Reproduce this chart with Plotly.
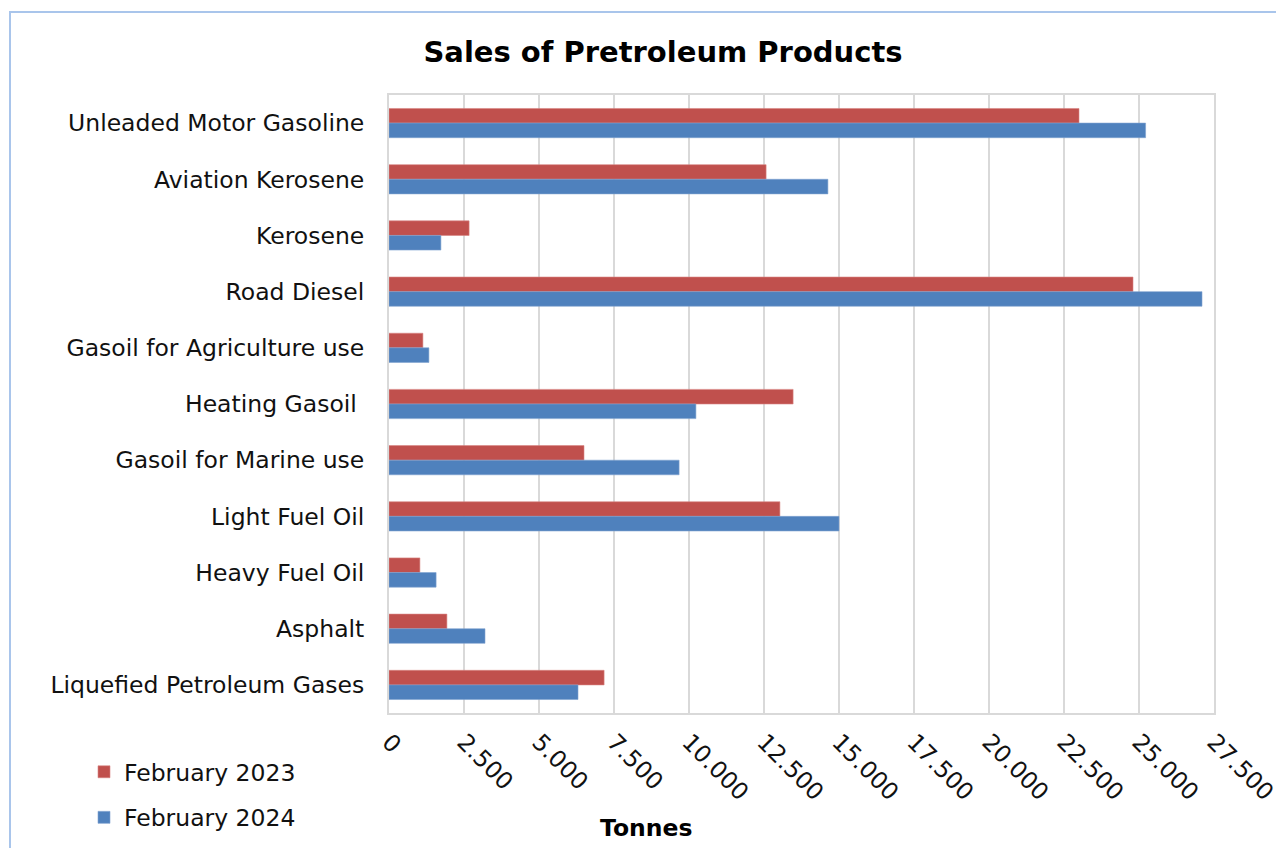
import plotly.graph_objects as go

categories = [
    "Unleaded Motor Gasoline",
    "Aviation Kerosene",
    "Kerosene",
    "Road Diesel",
    "Gasoil for Agriculture use",
    "Heating Gasoil ",
    "Gasoil for Marine use",
    "Light Fuel Oil",
    "Heavy Fuel Oil",
    "Asphalt",
    "Liquefied Petroleum Gases",
]
feb_2023 = [23000, 12570, 2670, 24800, 1130, 13470, 6500, 13030, 1030, 1930, 7170]
feb_2024 = [25220, 14630, 1730, 27100, 1330, 10230, 9670, 15000, 1570, 3200, 6300]

FONT = "DejaVu Sans"
OFF = 8  # page body margin
W, H = 1284, 848
L, T = 389 - OFF, 95 - OFF
PW, PH = 825, 618
R, B = W - L - PW, H - T - PH


def fx(x):
    return (x - OFF - L) / PW


def fy(y):
    return (T + PH - (y - OFF)) / PH


fig = go.Figure()
fig.add_trace(go.Bar(y=categories, x=feb_2023, orientation="h", name="February 2023",
                     marker=dict(color="#C0504D", line=dict(color="#D98583", width=0.6)),
                     legendgroup="a"))
fig.add_trace(go.Bar(y=categories, x=feb_2024, orientation="h", name="February 2024",
                     marker=dict(color="#4F81BD", line=dict(color="#7FA3D0", width=0.6)),
                     legendgroup="b"))

fig.update_layout(
    width=W, height=H,
    margin=dict(l=L, r=R, t=T, b=B, pad=0),
    paper_bgcolor="white", plot_bgcolor="white",
    barmode="group", bargap=0.48, bargroupgap=0,
    separators=",.",
    font=dict(family=FONT, size=23.5, color="#111111"),
    title=dict(text="<b>Sales of Pretroleum Products</b>", x=(663 - OFF) / W, xanchor="center",
               y=1 - (52 - OFF) / H, yanchor="middle", yref="container",
               font=dict(family=FONT, size=29, color="black")),
    legend=dict(x=fx(84), y=fy(750), xanchor="left", yanchor="top",
                traceorder="grouped", tracegroupgap=12,
                font=dict(family=FONT, size=23.5, color="#111111"),
                bgcolor="rgba(0,0,0,0)"),
    xaxis=dict(range=[0, 27500], dtick=2500, tick0=0, tickformat=",d",
               tickangle=45, showgrid=True, gridcolor="#D9D9D9", gridwidth=2,
               showline=True, linecolor="#D9D9D9", linewidth=2, mirror=True,
               zeroline=False, ticks="", ticklabelstandoff=4,
               tickfont=dict(family=FONT, size=23.5, color="#111111")),
    yaxis=dict(autorange="reversed", showgrid=False, showline=True, linecolor="#D9D9D9",
               linewidth=2, mirror=True, ticks="", ticklabelstandoff=18,
               tickfont=dict(family=FONT, size=23.5, color="#111111")),
    shapes=[dict(type="rect", xref="paper", yref="paper",
                 x0=fx(10), x1=fx(1320), y0=fy(900), y1=fy(12),
                 line=dict(color="#A9C5EB", width=2), fillcolor="rgba(0,0,0,0)")],
    annotations=[dict(text="<b>Tonnes</b>", xref="paper", yref="paper",
                      x=fx(646), y=fy(828), xanchor="center", yanchor="middle",
                      showarrow=False, font=dict(family=FONT, size=23.5, color="black"))],
)

fig.write_html("out.html")
